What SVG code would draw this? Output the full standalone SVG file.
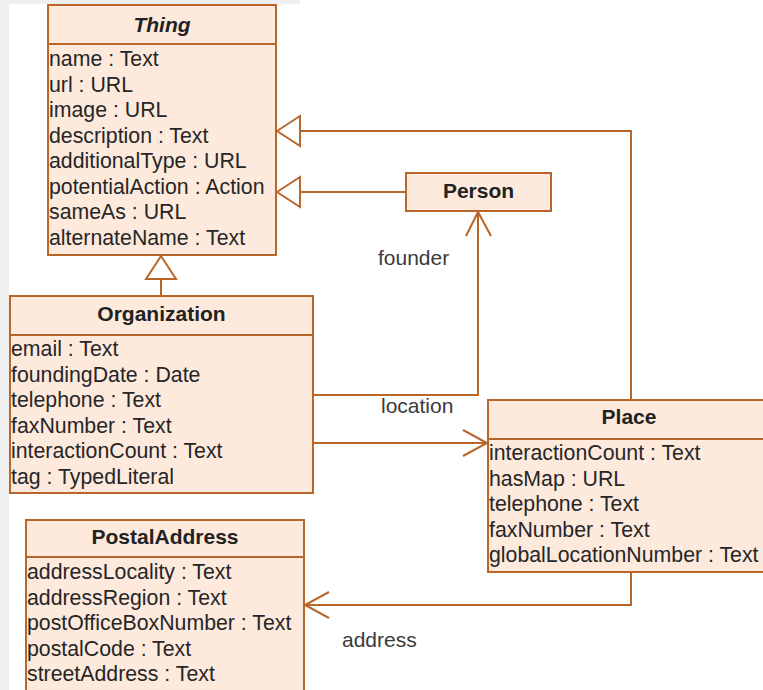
<svg xmlns="http://www.w3.org/2000/svg" width="763" height="690" viewBox="0 0 763 690">
  <style>
    .box { fill: #fdeadd; stroke: #b8662a; stroke-width: 2; }
    .div { stroke: #b8662a; stroke-width: 2; fill: none; }
    .conn { stroke: #b8662a; stroke-width: 2; fill: none; }
    .gen { stroke: #b8662a; stroke-width: 2; fill: #ffffff; }
    .title { font-family: "Liberation Sans", Arial, sans-serif; font-size: 21px; font-weight: bold; fill: #222; text-anchor: middle; }
    .attr { font-family: "Liberation Sans", Arial, sans-serif; font-size: 21.3px; fill: #262626; }
    .lbl { font-family: "Liberation Sans", Arial, sans-serif; font-size: 21px; fill: #3a3a3a; }
  </style>
  <rect x="0" y="0" width="763" height="690" fill="#ffffff"/>
  <rect x="0" y="0" width="9" height="690" fill="#efefef"/>
  <rect x="0" y="0" width="300" height="4" fill="#efefef"/>

  <g id="connectors">
    <!-- Organization -> Thing generalization -->
    <line class="conn" x1="161" y1="279" x2="161" y2="296"/>
    <polygon class="gen" points="161,256 146,279 176,279"/>
    <!-- Person -> Thing generalization -->
    <line class="conn" x1="300" y1="192" x2="406" y2="192"/>
    <polygon class="gen" points="277,192 300,177 300,207"/>
    <!-- Place -> Thing generalization -->
    <polyline class="conn" points="631,400 631,131 300,131"/>
    <polygon class="gen" points="277,131 300,116 300,146"/>
    <!-- founder -->
    <polyline class="conn" points="313,395 478,395 478,212"/>
    <polyline class="conn" points="466,236 478,212 491,236"/>
    <text class="lbl" x="378" y="265">founder</text>
    <!-- location -->
    <line class="conn" x1="313" y1="443" x2="487" y2="443"/>
    <polyline class="conn" points="463,430 487,443 463,456"/>
    <text class="lbl" x="381" y="413">location</text>
    <!-- address -->
    <polyline class="conn" points="631,572 631,605 305,605"/>
    <polyline class="conn" points="329,592 305,605 329,618"/>
    <text class="lbl" x="342" y="647">address</text>
  </g>

  <g id="thing">
    <rect class="box" x="48" y="5" width="228" height="250"/>
    <line class="div" x1="48" y1="44" x2="276" y2="44"/>
    <text class="title" x="162" y="32" font-style="italic">Thing</text>
    <text class="attr" x="49" y="66">name : Text</text>
    <text class="attr" x="49" y="91.5">url : URL</text>
    <text class="attr" x="49" y="117">image : URL</text>
    <text class="attr" x="49" y="142.5">description : Text</text>
    <text class="attr" x="49" y="168">additionalType : URL</text>
    <text class="attr" x="49" y="193.5">potentialAction : Action</text>
    <text class="attr" x="49" y="219">sameAs : URL</text>
    <text class="attr" x="49" y="244.5">alternateName : Text</text>
  </g>

  <g id="person">
    <rect class="box" x="406" y="173" width="145" height="38"/>
    <text class="title" x="478.5" y="198">Person</text>
  </g>

  <g id="organization">
    <rect class="box" x="10" y="296" width="303" height="197"/>
    <line class="div" x1="10" y1="335" x2="313" y2="335"/>
    <text class="title" x="161.5" y="321">Organization</text>
    <text class="attr" x="11" y="356">email : Text</text>
    <text class="attr" x="11" y="381.5">foundingDate : Date</text>
    <text class="attr" x="11" y="407">telephone : Text</text>
    <text class="attr" x="11" y="432.5">faxNumber : Text</text>
    <text class="attr" x="11" y="458">interactionCount : Text</text>
    <text class="attr" x="11" y="483.5">tag : TypedLiteral</text>
  </g>

  <g id="place">
    <rect class="box" x="488" y="400" width="285" height="172"/>
    <line class="div" x1="488" y1="439" x2="773" y2="439"/>
    <text class="title" x="629" y="424">Place</text>
    <text class="attr" x="489" y="460">interactionCount : Text</text>
    <text class="attr" x="489" y="485.5">hasMap : URL</text>
    <text class="attr" x="489" y="511">telephone : Text</text>
    <text class="attr" x="489" y="536.5">faxNumber : Text</text>
    <text class="attr" x="489" y="562">globalLocationNumber : Text</text>
  </g>

  <g id="postaladdress">
    <rect class="box" x="26" y="520" width="278" height="180"/>
    <line class="div" x1="26" y1="557" x2="304" y2="557"/>
    <text class="title" x="165" y="544">PostalAddress</text>
    <text class="attr" x="27" y="579">addressLocality : Text</text>
    <text class="attr" x="27" y="604.5">addressRegion : Text</text>
    <text class="attr" x="27" y="630">postOfficeBoxNumber : Text</text>
    <text class="attr" x="27" y="655.5">postalCode : Text</text>
    <text class="attr" x="27" y="681">streetAddress : Text</text>
  </g>
</svg>
